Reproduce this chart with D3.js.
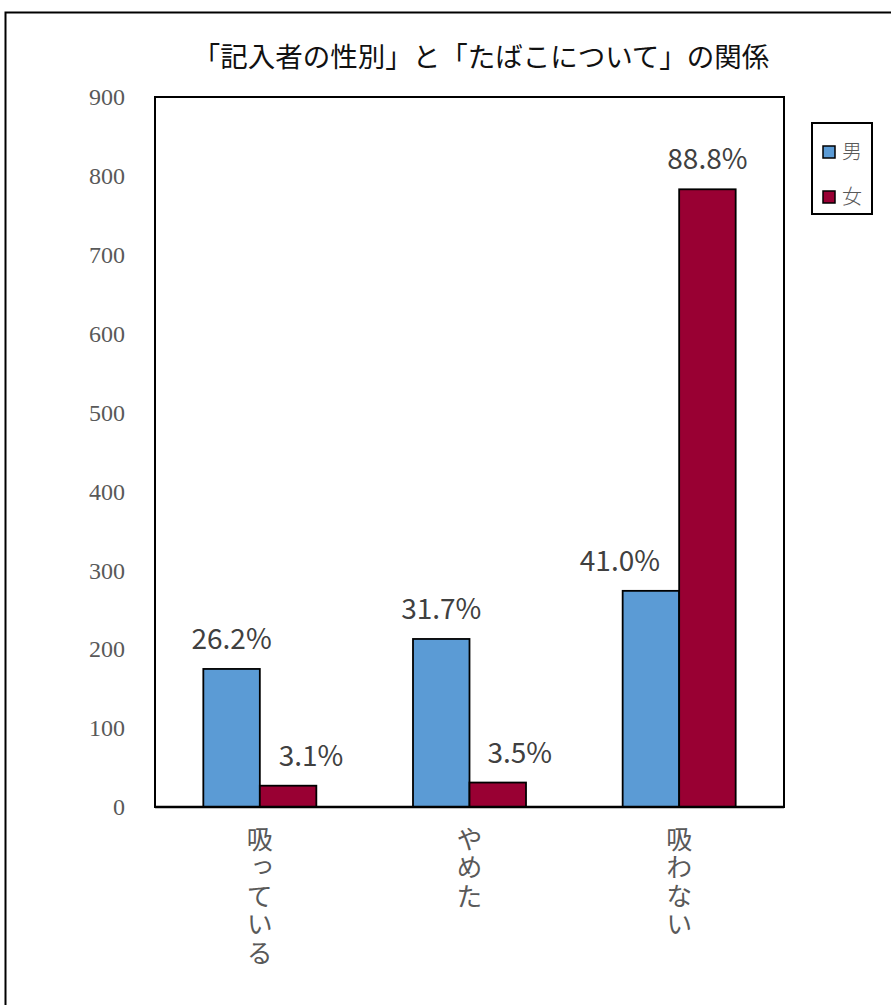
<!DOCTYPE html>
<html>
<head>
<meta charset="utf-8">
<script src="https://cdn.jsdelivr.net/npm/d3@7"></script>
<style>
  html, body { margin: 0; padding: 0; background: #ffffff; }
  svg { display: block; }
</style>
</head>
<body>
<script>
// ---- data ----
const categories = ["吸っている", "やめた", "吸わない"];
const seriesNames = ["男", "女"];
const maleValues = [175, 213, 274];
const femaleValues = [27, 31, 783];
const maleLabels = ["26.2%", "31.7%", "41.0%"];
const femaleLabels = ["3.1%", "3.5%", "88.8%"];
const yTicks = [0, 100, 200, 300, 400, 500, 600, 700, 800, 900];
const titleText = "「記入者の性別」と「たばこについて」の関係";

// ---- layout / style ----
const W = 891, H = 1005;
const plot = { left: 155, right: 784, top: 97, bottom: 807 };
const colors = ["#5B9BD5", "#990033"];
const labelNudge = { male: [0, 0, -31], female: [23, 22, 0] };
const jpFont = "'Noto Sans CJK JP', 'Noto Sans', sans-serif";

const svg = d3.select("body").append("svg").attr("width", W).attr("height", H);

// outer chart frame (extends beyond the visible area on right/bottom)
svg.append("rect")
  .attr("x", 5.5).attr("y", 12.5).attr("width", 1000).attr("height", 1100)
  .attr("fill", "#fff").attr("stroke", "#000").attr("stroke-width", 2);

// title
svg.append("text")
  .attr("x", 481).attr("y", 67)
  .attr("text-anchor", "middle")
  .attr("font-family", jpFont).attr("font-size", 27.5).attr("font-weight", 400)
  .attr("fill", "#111")
  .text(titleText);

// scales
const y = d3.scaleLinear().domain([0, 900]).range([plot.bottom, plot.top]);
const x0 = d3.scaleBand().domain(categories).range([plot.left, plot.right])
  .paddingInner(0.461).paddingOuter(0.2305);
const x1 = d3.scaleBand().domain(seriesNames).range([0, x0.bandwidth()]);

// plot area frame
svg.append("rect")
  .attr("x", plot.left).attr("y", plot.top)
  .attr("width", plot.right - plot.left).attr("height", plot.bottom - plot.top)
  .attr("fill", "none").attr("stroke", "#000").attr("stroke-width", 2);

// y axis (labels only)
const yAxis = d3.axisLeft(y).tickValues(yTicks).tickSize(0).tickPadding(30);
const gy = svg.append("g").attr("transform", `translate(${plot.left},0)`).call(yAxis);
gy.select(".domain").remove();
gy.selectAll("text")
  .attr("font-family", "'Liberation Serif', 'DejaVu Serif', serif")
  .attr("font-size", 24).attr("fill", "#595959");

// bars
const rows = categories.map((c, i) => ({
  cat: c,
  vals: [
    { s: seriesNames[0], v: maleValues[i], label: maleLabels[i], dx: labelNudge.male[i] },
    { s: seriesNames[1], v: femaleValues[i], label: femaleLabels[i], dx: labelNudge.female[i] }
  ]
}));

const groups = svg.selectAll("g.grp").data(rows).join("g")
  .attr("class", "grp")
  .attr("transform", d => `translate(${x0(d.cat)},0)`);

groups.selectAll("rect").data(d => d.vals).join("rect")
  .attr("x", d => x1(d.s))
  .attr("y", d => y(d.v))
  .attr("width", x1.bandwidth())
  .attr("height", d => y(0) - y(d.v))
  .attr("fill", (d, i) => colors[i])
  .attr("stroke", "#000").attr("stroke-width", 1.8);

groups.selectAll("text.val").data(d => d.vals).join("text")
  .attr("class", "val")
  .attr("x", d => x1(d.s) + x1.bandwidth() / 2 + d.dx)
  .attr("y", d => y(d.v) - 20)
  .attr("text-anchor", "middle")
  .attr("font-family", jpFont).attr("font-size", 28)
  .attr("fill", "#404040")
  .text(d => d.label);

// bottom axis line
svg.append("line")
  .attr("x1", plot.left).attr("x2", plot.right)
  .attr("y1", plot.bottom).attr("y2", plot.bottom)
  .attr("stroke", "#000").attr("stroke-width", 2.5);

// x labels, vertical writing
svg.selectAll("text.xlab").data(categories).join("text")
  .attr("class", "xlab")
  .attr("x", c => x0(c) + x0.bandwidth() / 2)
  .attr("y", 826)
  .style("writing-mode", "vertical-rl")
  .style("letter-spacing", "2.5px")
  .attr("font-family", jpFont).attr("font-size", 26)
  .attr("fill", "#595959")
  .attr("text-anchor", "start")
  .text(c => c);

// legend
const lg = svg.append("g");
lg.append("rect")
  .attr("x", 812).attr("y", 123).attr("width", 60).attr("height", 91)
  .attr("fill", "#fff").attr("stroke", "#000").attr("stroke-width", 2);
seriesNames.forEach((s, i) => {
  const cy = 152 + i * 45;
  lg.append("rect")
    .attr("x", 823).attr("y", cy - 6).attr("width", 12).attr("height", 12)
    .attr("fill", colors[i]).attr("stroke", "#000").attr("stroke-width", 1.5);
  lg.append("text")
    .attr("x", 842).attr("y", cy + 7)
    .attr("font-family", jpFont).attr("font-weight", 300).attr("font-size", 20)
    .attr("fill", "#595959")
    .text(s);
});
</script>
</body>
</html>
